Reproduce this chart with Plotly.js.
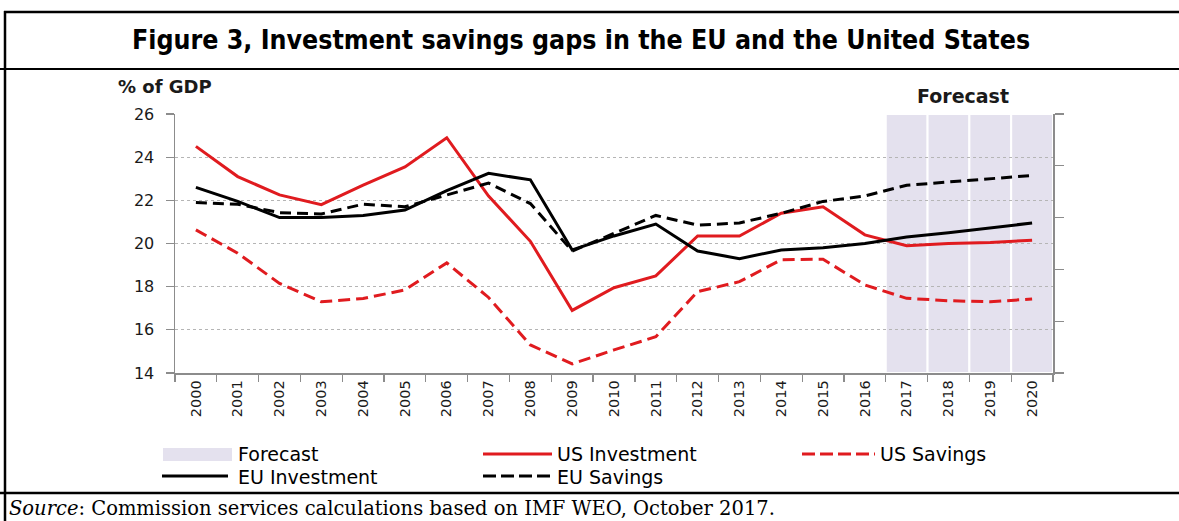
<!DOCTYPE html>
<html>
<head>
<meta charset="utf-8">
<script src="https://cdn.plot.ly/plotly-3.0.1.min.js"></script>
<style>
html, body { margin: 0; padding: 0; background: #ffffff; }
#chart { width: 1179px; height: 521px; }
</style>
</head>
<body>
<div id="chart"></div>
<script>
// ---- Data ----
const years = ['2000','2001','2002','2003','2004','2005','2006','2007','2008','2009','2010',
               '2011','2012','2013','2014','2015','2016','2017','2018','2019','2020'];
const forecastYears = ['2017','2018','2019','2020'];
const usInvestment = [24.5, 23.1, 22.25, 21.8, 22.7, 23.55, 24.9, 22.2, 20.1, 16.9, 17.95,
                      18.5, 20.35, 20.35, 21.4, 21.7, 20.4, 19.9, 20.0, 20.05, 20.15];
const usSavings    = [20.63, 19.55, 18.15, 17.3, 17.45, 17.85, 19.1, 17.5, 15.3, 14.42, 15.07,
                      15.68, 17.77, 18.23, 19.25, 19.27, 18.08, 17.46, 17.35, 17.3, 17.43];
const euInvestment = [22.6, 21.95, 21.2, 21.2, 21.3, 21.55, 22.45, 23.25, 22.95, 19.7, 20.35,
                      20.9, 19.65, 19.3, 19.7, 19.8, 20.0, 20.3, 20.5, 20.72, 20.95];
const euSavings    = [21.9, 21.82, 21.43, 21.37, 21.82, 21.7, 22.25, 22.8, 21.85, 19.65, 20.47,
                      21.3, 20.85, 20.95, 21.4, 21.95, 22.2, 22.7, 22.85, 23.0, 23.15];
const yTicks = [14, 16, 18, 20, 22, 24, 26];

const titleText = 'Figure 3, Investment savings gaps in the EU and the United States';
const sourceText = '<i>Source</i>: Commission services calculations based on IMF WEO, October 2017.';
const yUnitText = '% of GDP';
const forecastLabel = 'Forecast';
const seriesNames = ['US Investment', 'US Savings', 'EU Investment', 'EU Savings'];

// ---- Styling ----
const RED = '#e01b1f';
const BLACK = '#000000';
const LAVENDER = '#e4e1ee';
const AXIS = '#8c8c8c';
const W = 1179, H = 521;
const M = { l: 175, r: 126, t: 114, b: 148 };
const PW = W - M.l - M.r, PH = H - M.t - M.b;
// pixel -> paper helpers for decorations
const px = v => (v - M.l) / PW;
const py = v => (H - M.b - v) / PH;

const chartFont = 'DejaVu Sans, Verdana, sans-serif';
const legendFont = 'DejaVu Sans, sans-serif';

const traces = [
  { x: years, y: usInvestment, name: seriesNames[0], type: 'scatter', mode: 'lines',
    line: { color: RED, width: 3 }, showlegend: false },
  { x: years, y: usSavings, name: seriesNames[1], type: 'scatter', mode: 'lines',
    line: { color: RED, width: 3, dash: '12px,6px' }, showlegend: false },
  { x: years, y: euInvestment, name: seriesNames[2], type: 'scatter', mode: 'lines',
    line: { color: BLACK, width: 3 }, showlegend: false },
  { x: years, y: euSavings, name: seriesNames[3], type: 'scatter', mode: 'lines',
    line: { color: BLACK, width: 3, dash: '11px,6px' }, showlegend: false },
  // dummy trace so the secondary (right) axis is drawn
  { x: [years[0]], y: [null], yaxis: 'y2', type: 'scatter', mode: 'lines',
    showlegend: false, hoverinfo: 'skip' }
];

const shapes = [];
// forecast shading, one column per forecast year
forecastYears.forEach(fy => {
  const i = years.indexOf(fy);
  shapes.push({ type: 'rect', layer: 'below', xref: 'x', yref: 'y domain',
    x0: i - 0.5, x1: i + 0.5, y0: 0, y1: 1,
    fillcolor: LAVENDER, line: { color: '#ffffff', width: 2 } });
});
// document frame lines
const frameLine = (x0, y0, x1, y1, w) => ({ type: 'line', xref: 'paper', yref: 'paper',
  x0: px(x0), y0: py(y0), x1: px(x1), y1: py(y1), line: { color: '#000', width: w } });
shapes.push(frameLine(4, 12, 1179, 12, 2.5));
shapes.push(frameLine(5, 11, 5, 521, 2.5));
shapes.push(frameLine(0, 69, 1179, 69, 2));
shapes.push(frameLine(0, 493, 1179, 493, 2.5));

// legend swatches
shapes.push({ type: 'rect', xref: 'paper', yref: 'paper',
  x0: px(163), x1: px(232), y0: py(461), y1: py(448), fillcolor: LAVENDER, line: { width: 0 } });
const legLine = (x0, x1, y, color, dash) => ({ type: 'line', xref: 'paper', yref: 'paper',
  x0: px(x0), x1: px(x1), y0: py(y), y1: py(y), line: { color: color, width: 3, dash: dash || 'solid' } });
shapes.push(legLine(483, 552, 454, RED));
shapes.push(legLine(802, 875, 454, RED, '13px,5px'));
shapes.push(legLine(162, 228, 476, BLACK));
shapes.push(legLine(483, 550, 476, BLACK, '13px,5px'));

const ann = (text, x, y, opts) => Object.assign({ text: text, xref: 'paper', yref: 'paper',
  x: px(x), y: py(y), showarrow: false, xanchor: 'left', yanchor: 'middle',
  font: { family: legendFont, size: 19, color: '#000' } }, opts || {});

const annotations = [
  ann('<b>' + titleText + '</b>', 581, 40, { xanchor: 'center',
      font: { family: 'DejaVu Sans Condensed, DejaVu Sans, sans-serif', size: 26.5, color: '#000' } }),
  ann(sourceText, 7, 508, { font: { family: 'DejaVu Serif, Liberation Serif, serif', size: 19.5, color: '#000' } }),
  ann('<b>' + yUnitText + '</b>', 116, 86, { font: { family: chartFont, size: 18, color: '#1a1a1a' } }),
  ann('<b>' + forecastLabel + '</b>', 963, 96, { xanchor: 'center', font: { family: chartFont, size: 19, color: '#1a1a1a' } }),
  ann(forecastLabel, 236, 454),
  ann(seriesNames[0], 555, 454),
  ann(seriesNames[1], 878, 454),
  ann(seriesNames[2], 236, 477),
  ann(seriesNames[3], 555, 477)
];

const layout = {
  width: W, height: H,
  margin: M,
  paper_bgcolor: '#ffffff',
  plot_bgcolor: '#ffffff',
  showlegend: false,
  xaxis: {
    type: 'category', categoryorder: 'array', categoryarray: years,
    range: [-0.5, years.length - 0.5], autorange: false,
    tickson: 'boundaries', ticks: 'outside', ticklen: 7, tickcolor: AXIS, tickwidth: 1.2,
    tickangle: -90, showline: true, linecolor: AXIS, linewidth: 1.5,
    showgrid: false, zeroline: false,
    tickfont: { family: chartFont, size: 14.5, color: '#1a1a1a' }
  },
  yaxis: {
    range: [14, 26], tickvals: yTicks, ticktext: yTicks.map(String),
    ticks: 'outside', ticklen: 8, tickcolor: AXIS, tickwidth: 1.2,
    ticklabelstandoff: 8,
    showline: true, linecolor: AXIS, linewidth: 1.5,
    showgrid: true, gridcolor: '#b5b5b5', griddash: 'dot', gridwidth: 1,
    zeroline: false,
    tickfont: { family: chartFont, size: 16, color: '#1a1a1a' }
  },
  yaxis2: {
    overlaying: 'y', side: 'right', range: [0, 5], dtick: 1,
    ticks: 'outside', ticklen: 9, tickcolor: AXIS, tickwidth: 1.2,
    showticklabels: false, showline: true, linecolor: AXIS, linewidth: 1.5,
    showgrid: false, zeroline: false
  },
  shapes: shapes,
  annotations: annotations
};

Plotly.newPlot('chart', traces, layout, { staticPlot: true, displayModeBar: false });
</script>
</body>
</html>
